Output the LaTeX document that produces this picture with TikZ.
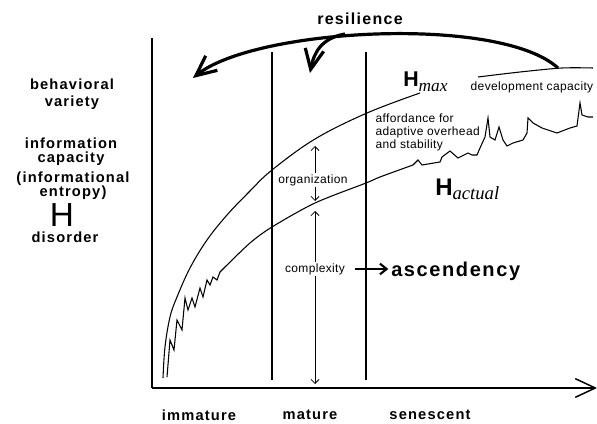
\documentclass[tikz,border=0pt]{standalone}
\usepackage{fontspec}
\setmainfont{Liberation Sans}
\newfontfamily\lblfont[LetterSpace=8]{Liberation Sans}
\newfontfamily\smlfont[LetterSpace=3]{Liberation Sans}
\newfontfamily\subfont{Liberation Serif}
\usetikzlibrary{arrows.meta}

\begin{document}
\begin{tikzpicture}[x=0.75pt, y=-0.75pt]
        % ================= 样式定义 =================
        \tikzset{
            % 粗体说明文字
            biglbl/.style={font=\lblfont\bfseries\fontsize{11}{10.5}\selectfont, inner sep=0pt, align=center},
            % 图内小号文字
            smalllbl/.style={font=\smlfont\fontsize{9}{10}\selectfont, inner sep=1pt, align=left},
            axisline/.style={line width=1.1pt, black},
            stageline/.style={line width=2pt, black},
            curve/.style={line width=0.8pt, black},
            measure/.style={line width=0.6pt, {Straight Barb[length=3pt,width=6pt]}-{Straight Barb[length=3pt,width=6pt]}},
            resil/.style={line width=2.4pt, -{Straight Barb[length=15pt,width=14pt]}},
            bigarrow/.style={line width=1.6pt, -{Straight Barb[length=5pt,width=8pt]}}
        }
        \useasboundingbox (0,0) rectangle (597,424);

        % ================= 坐标轴 =================
        \coordinate (origin) at (152,388);
        \coordinate (ytop) at (152,38);
        \coordinate (xend) at (597,388);
        \draw[axisline] (ytop) -- (origin);
        \draw[axisline, -{Straight Barb[length=15pt,width=14pt]}] (origin) -- (xend);

        % 三个阶段之间的分隔线
        \foreach \x/\name in {272/sepa, 366/sepb} {
            \coordinate (\name-t) at (\x,52);
            \coordinate (\name-b) at (\x,380);
            \draw[stageline] (\name-t) -- (\name-b);
        }

        % ================= H_max 曲线 =================
        \draw[curve] plot[smooth, tension=0.6] coordinates {(163,378) (165,347) (170,317) (177,297) (190,268)
            (207,240) (227,215) (250,191) (272,170) (315,139) (367,113) (420,93)};
        \draw[curve] plot[smooth] coordinates {(478,77) (520,72) (562,68) (593,68)};

        % ================= H_actual 曲线 (两端为锯齿) =================
        \draw[curve] (167,377) -- (170,340) -- (174,350) -- (177,320) -- (182,330) -- (185,298) -- (188,310)
            -- (192,298) -- (195,307) -- (200,288) -- (203,297) -- (207,280) -- (210,285) -- (213,277)
            -- (217,280) -- (220,272) -- (225,267);
        \draw[curve] plot[smooth] coordinates {(225,267) (250,243) (272,227) (315,203) (366,183) (380,177) (413,165)};
        \draw[curve] (413,165) -- (418,160) -- (422,165) -- (440,162) -- (442,157) -- (450,151) -- (458,158)
            -- (468,153) -- (472,155) -- (477,155) -- (480,148) -- (485,137) -- (488,118) -- (490,137)
            -- (495,140) -- (499,127) -- (503,140) -- (507,146) -- (513,143) -- (523,140) -- (527,133)
            -- (528,118) -- (533,123) -- (542,128) -- (557,133) -- (570,128) -- (577,126) -- (580,103)
            -- (582,115) -- (588,117) -- (593,117);

        % ================= 组织度与复杂度 =================
        \coordinate (orgtop) at (315,146);
        \coordinate (orgbot) at (315,201);
        \draw[measure] (orgtop) -- (orgbot);
        \node[smalllbl, fill=white] (org) at (313,180) {organization};

        \coordinate (cpxtop) at (315,211);
        \coordinate (cpxbot) at (315,384);
        \draw[measure] (cpxtop) -- (cpxbot);
        \node[smalllbl, fill=white] (cpx) at (315,269) {complexity};

        \node[biglbl, font=\lblfont\bfseries\fontsize{15}{15}\selectfont, anchor=west] (asc) at (391,271) {ascendency};
        \draw[bigarrow, shorten <=6pt, shorten >=2pt] (cpx.east) -- (cpx.east -| asc.west);

        % ================= 曲线标注 =================
        \node[inner sep=0pt, anchor=base west] (hmax) at (403,87)
            {\fontsize{16}{16}\selectfont\bfseries H\raisebox{-3.5pt}{\subfont\mdseries\itshape\fontsize{13}{13}\selectfont max}};
        \node[inner sep=0pt, anchor=base west] (hact) at (435,196)
            {\fontsize{18}{18}\selectfont\bfseries H\raisebox{-3pt}{\subfont\mdseries\itshape\fontsize{14}{14}\selectfont actual}};
        \node[smalllbl] (devcap) at (532,87) {development capacity};
        \node[smalllbl, anchor=north west] (afford) at (374,112)
            {affordance for\\adaptive overhead\\and stability};

        % ================= resilience 箭头 =================
        \coordinate (rstart) at (558,68);
        \coordinate (rtipa) at (193,78);
        \coordinate (rbranch) at (345,34);
        \coordinate (rtipb) at (310,73);
        \draw[resil] (rstart) .. controls (500,15) and (255,28) .. (rtipa);
        \draw[resil] (rbranch) .. controls (322,38) and (314,52) .. (rtipb);
        \node[biglbl, font=\lblfont\bfseries\fontsize{12}{12}\selectfont] (reslbl) at (360,19) {resilience};

        % ================= 纵轴说明 =================
        \node[biglbl, font=\lblfont\bfseries\fontsize{11}{12.75}\selectfont] (behav) at (72,94) {behavioral\\variety};
        \node[biglbl] (info) at (71,152) {information\\capacity};
        \node[biglbl] (entr) at (73,186) {(informational\\entropy)};
        \node[inner sep=0pt, font=\fontsize{25}{25}\selectfont] (hlbl) at (62,215) {H};
        \node[biglbl] (disord) at (65,237) {disorder};

        % ================= 横轴阶段 =================
        \node[biglbl] (immat) at (199,415) {immature};
        \node[biglbl] (mat) at (310,415) {mature};
        \node[biglbl] (senes) at (430,415) {senescent};

    \end{tikzpicture}
\end{document}
